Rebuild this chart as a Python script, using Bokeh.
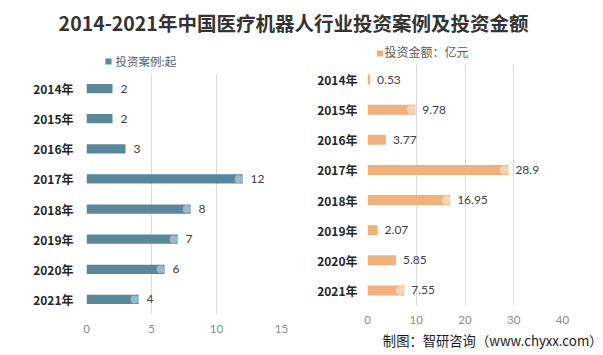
from bokeh.plotting import figure
from bokeh.models import (ColumnDataSource, FactorRange, Range1d, FixedTicker, Label, Title,
                          CDSView, BooleanFilter)
from bokeh.layouts import column, row
from bokeh.embed import file_html
from bokeh.resources import INLINE
from bokeh.core.properties import value
from bokeh.transform import dodge

# ---- data ----
years = ["2014年", "2015年", "2016年", "2017年", "2018年", "2019年", "2020年", "2021年"]
cases = [2, 2, 3, 12, 8, 7, 6, 4]
amounts = [0.53, 9.78, 3.77, 28.9, 16.95, 2.07, 5.85, 7.55]
case_labels = ["2", "2", "3", "12", "8", "7", "6", "4"]
amount_labels = ["0.53", "9.78", "3.77", "28.9", "16.95", "2.07", "5.85", "7.55"]
left_ticks = [0, 5, 10, 15]
right_ticks = [0, 10, 20, 30, 40]
title_text = "2014-2021年中国医疗机器人行业投资案例及投资金额"
legend_left = "投资案例:起"
legend_right = "投资金额：亿元"
footer_text = "制图：智研咨询（www.chyxx.com）"

FONT = "Noto Sans CJK SC"
NUMFONT = "Lato"
BLUE = "#5b879b"
BLUE_CAP = "#a7c3cf"
ORANGE = "#f0b17d"
ORANGE_CAP = "#fadcc2"
GRID = "#d9d9d9"


def blank(w, h):
    f = figure(width=w, height=h, output_backend="svg", toolbar_location=None,
               x_range=Range1d(0, w), y_range=Range1d(h, 0), frame_align=False,
               x_axis_type=None, y_axis_type=None, min_border=0)
    f.grid.visible = False
    f.outline_line_color = None
    return f


# ---- title strip ----
tf = blank(603, 40)
tf.add_layout(Label(x=293, y=22, text=title_text,
                    text_align="center", text_baseline="middle", text_font=FONT,
                    text_font_size="19.5px", text_font_style="bold", text_color="#333333"))

# ---- legend strips ----
lg1 = blank(300, 30)
lg1.scatter(x=[108], y=[21], marker="square", size=6, fill_color=BLUE, line_color=None)
lg1.add_layout(Label(x=115, y=20.5, text=legend_left, text_align="left", text_baseline="middle",
                     text_font=FONT, text_font_size="11.5px", text_color="#595959"))

lg2 = blank(303, 23)
lg2.scatter(x=[79.5], y=[13], marker="square", size=6, fill_color=ORANGE, line_color=None)
lg2.add_layout(Label(x=84, y=11.2, text=legend_right, text_align="left", text_baseline="middle",
                     text_font=FONT, text_font_size="12px", text_color="#595959"))


def style(p, ticks, ystandoff):
    p.outline_line_color = None
    p.ygrid.visible = False
    p.xgrid.ticker = FixedTicker(ticks=ticks)
    p.xgrid.grid_line_color = GRID
    p.xaxis.ticker = FixedTicker(ticks=ticks)
    p.xaxis.axis_line_color = None
    p.xaxis.major_tick_line_color = None
    p.xaxis.minor_tick_line_color = None
    p.xaxis.major_tick_out = 0
    p.xaxis.major_tick_in = 0
    p.xaxis.major_label_standoff = 10
    p.xaxis.major_label_text_font = NUMFONT
    p.xaxis.major_label_text_font_size = "11.5px"
    p.xaxis.major_label_text_color = "#8c8c8c"
    p.yaxis.axis_line_color = None
    p.yaxis.major_tick_line_color = None
    p.yaxis.minor_tick_line_color = None
    p.yaxis.major_tick_out = 0
    p.yaxis.major_tick_in = 0
    p.yaxis.major_label_standoff = ystandoff
    p.yaxis.major_label_text_font = FONT
    p.yaxis.major_label_text_font_size = "12px"
    p.yaxis.major_label_text_font_style = "bold"
    p.yaxis.major_label_text_color = "#262626"


# ---- left chart ----
src1 = ColumnDataSource(dict(year=years, v=cases, lab=case_labels))
p1 = figure(width=300, height=285, output_backend="svg", toolbar_location=None, frame_align=False,
            y_range=FactorRange(*reversed(years)), x_range=Range1d(0, 15),
            min_border_left=86, min_border_right=19, min_border_top=3, min_border_bottom=41)
style(p1, left_ticks, 13)
p1.hbar(y="year", left=0, right="v", height=0.31, fill_color=BLUE, line_color=None, source=src1)
p1.scatter(x=dodge("v", -0.3), y="year", size=8, marker="circle", fill_color=BLUE_CAP,
           line_color=None, fill_alpha=0.85, source=src1,
           view=CDSView(filter=BooleanFilter([c >= 4 for c in cases])))
p1.text(x="v", y="year", text="lab", x_offset=8, text_baseline="middle", text_align="left",
        text_font=value(NUMFONT), text_font_size="12px", text_color="#404040", source=src1)

# ---- right chart ----
src2 = ColumnDataSource(dict(year=years, v=amounts, lab=amount_labels))
p2 = figure(width=303, height=292, output_backend="svg", toolbar_location=None, frame_align=False,
            y_range=FactorRange(*reversed(years)), x_range=Range1d(0, 40),
            min_border_left=67, min_border_right=41, min_border_top=1, min_border_bottom=50)
style(p2, right_ticks, 10)
p2.hbar(y="year", left=0, right="v", height=0.33, fill_color=ORANGE, line_color=None, source=src2)
p2.scatter(x=dodge("v", -0.8), y="year", size=9, marker="circle", fill_color=ORANGE_CAP,
           line_color=None, fill_alpha=0.85, source=src2,
           view=CDSView(filter=BooleanFilter([a >= 7 for a in amounts])))
p2.text(x="v", y="year", text="lab", x_offset=7, text_baseline="middle", text_align="left",
        text_font=value(NUMFONT), text_font_size="12px", text_color="#404040", source=src2)
p2.add_layout(Title(text=footer_text, align="right", offset=-40, standoff=4,
                    text_font=FONT, text_font_size="13.3px", text_font_style="normal",
                    text_color="#1a1a1a"), "below")

layout = column(tf,
                row(column(lg1, p1, spacing=0), column(lg2, p2, spacing=0), spacing=0),
                spacing=0)
open("out.html", "w").write(file_html(layout, INLINE))
